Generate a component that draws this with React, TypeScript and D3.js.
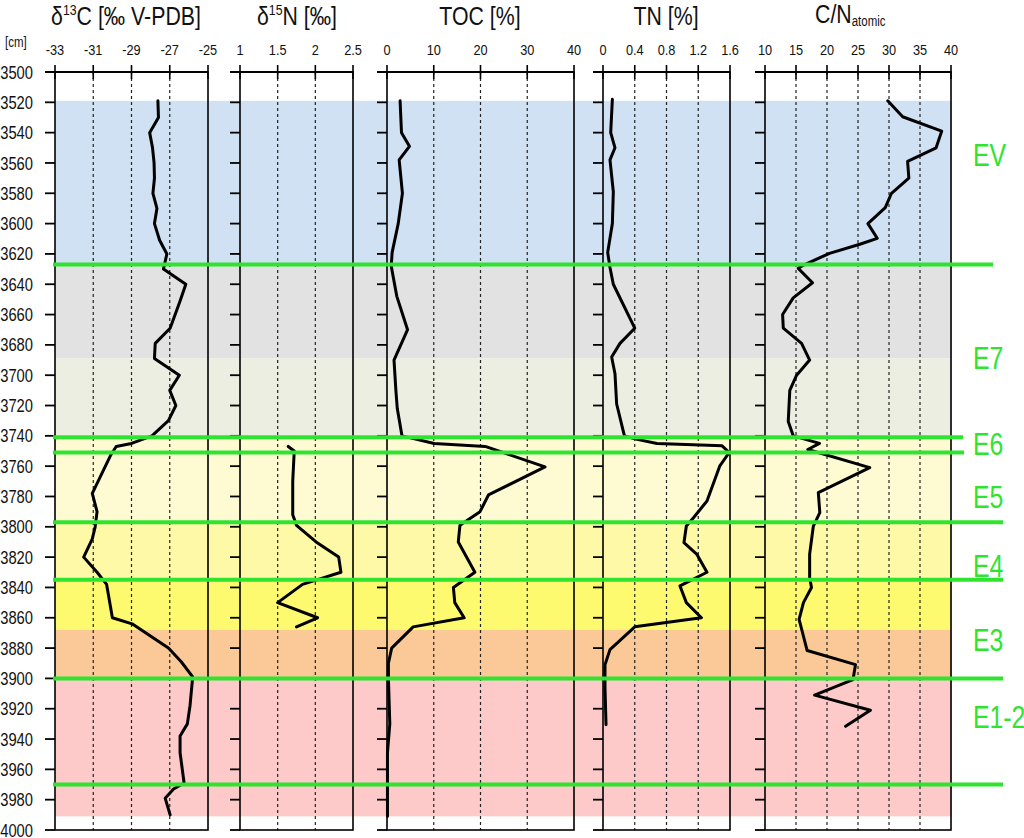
import React from "react";
import * as d3 from "d3";

// ---------- data ----------
const d13cDepth = [3519,3530,3540,3550,3560,3570,3580,3590,3600,3611,3620,3630,3640,3651,3669,3679,3689,3700,3710,3720,3730,3740,3745,3747,3753,3778,3790,3800,3808,3820,3830,3838,3860,3864,3880,3889,3899,3918,3930,3938,3949,3969,3973,3979,3990];
const d13cValue = [-27.62,-27.59,-28.05,-27.9,-27.82,-27.8,-27.88,-27.67,-27.8,-27.53,-27.15,-27.33,-26.16,-26.46,-26.98,-27.76,-27.8,-26.5,-27.0,-26.68,-27.07,-27.93,-29.0,-29.8,-30.1,-31.05,-30.8,-30.9,-31.05,-31.5,-30.8,-30.3,-30.0,-28.97,-27.07,-26.4,-25.8,-25.94,-26.08,-26.46,-26.46,-26.25,-26.8,-27.24,-26.98];

const d15nDepth = [3747,3750,3770,3792,3799,3810,3820,3830,3834.5,3838,3850,3860,3866];
const d15nValue = [1.64,1.72,1.70,1.70,1.75,2.01,2.31,2.34,2.05,1.83,1.50,2.03,1.75];

const tocDepth = [3519,3540,3549,3558,3580,3600,3619,3628,3648,3670,3690,3710,3722,3740,3745,3747,3760.5,3779,3790,3799,3810,3830,3840,3850,3860,3866,3880,3890,3900,3930,3949,3991];
const tocValue = [2.8,3.1,4.8,2.6,3.3,2.4,1.1,0.9,2.1,4.4,1.5,1.9,2.2,3.2,10.1,21,33.8,21.7,19.9,15.6,15.25,18.8,14.2,14.5,16.5,5.6,1.0,0.3,0.3,0.6,0.1,0.1];

const tnDepth = [3518,3540,3550,3558,3579,3600,3619,3629,3640,3669,3679,3688,3699,3719,3740,3742,3745,3746.6,3751,3760,3783,3794,3799.5,3810.5,3818,3830,3839,3850,3860,3866,3881,3891,3906,3930.5];
const tnValue = [0.118,0.097,0.151,0.088,0.13,0.118,0.059,0.088,0.13,0.40,0.214,0.109,0.151,0.172,0.27,0.40,0.68,1.50,1.59,1.47,1.31,1.14,1.05,1.02,1.18,1.31,0.97,1.05,1.24,0.40,0.088,0.025,0.025,0.038];

const cnDepth = [3519,3529.5,3539,3550,3559,3570,3580,3589.5,3600,3609.7,3613.6,3619.6,3627,3629.5,3639,3649,3660,3669,3679,3690,3700,3710,3730.5,3740,3745,3749,3761,3777.4,3790.7,3799.5,3818,3833.6,3840,3850,3861,3881.6,3890.9,3900.8,3911,3921,3931.6];
const cnValue = [29.8,32.2,38.5,37.6,33.0,33.2,30.4,29.4,26.6,28.1,25.3,20.4,16.4,15.36,17.66,14.55,12.84,12.95,15.9,17.2,15.1,14.0,13.75,14.55,18.8,16.9,26.9,18.6,18.84,17.8,17.2,17.2,17.5,16.2,15.5,16.8,24.6,24.2,18.0,27.0,23.0];

const depthTicks = d3.range(3500, 4001, 20);

const bandTop = [3519, 3627, 3689, 3741, 3797, 3835, 3868, 3900];
const bandBottom = [3627, 3689, 3741, 3797, 3835, 3868, 3900, 3991];
const bandColor = ["#cfe1f2", "#e2e2e2", "#ebeee1", "#fefbd3", "#fef9a6", "#fefa70", "#fbc997", "#fdc9c9"];

const boundaryDepth = [3627, 3741, 3751, 3797, 3835, 3900, 3970];
const zoneLabel = ["EV", "E7", "E6", "E5", "E4", "E3", "E1-2"];
const zoneLabelDepth = [3555, 3689, 3746, 3781, 3826, 3875, 3926];

const d13cTicks = [-33, -31, -29, -27, -25];
const d15nTicks = [1, 1.5, 2, 2.5];
const tocTicks = [0, 10, 20, 30, 40];
const tnTicks = [0, 0.4, 0.8, 1.2, 1.6];
const cnTicks = [10, 15, 20, 25, 30, 35, 40];

// ---------- layout ----------
const W = 1024, H = 838;
const yTop = 72, yBot = 830;
const y = d3.scaleLinear().domain([3500, 4000]).range([yTop, yBot]);
const boundaryRight = [993, 963, 964, 1003, 1003, 1003, 1003];
const GREEN = "#2fe42f";
const FONT = "'Liberation Sans', Arial, sans-serif";

type Panel = {
  key: string;
  domain: [number, number];
  range: [number, number];
  ticks: number[];
  depth: number[];
  value: number[];
  fmt: (v: number) => string;
};

const panels: Panel[] = [
  { key: "d13c", domain: [-33, -25], range: [55, 208], ticks: d13cTicks, depth: d13cDepth, value: d13cValue, fmt: (v) => String(v) },
  { key: "d15n", domain: [1, 2.5], range: [240, 353], ticks: d15nTicks, depth: d15nDepth, value: d15nValue, fmt: (v) => String(v) },
  { key: "toc", domain: [0, 40], range: [387, 574], ticks: tocTicks, depth: tocDepth, value: tocValue, fmt: (v) => String(v) },
  { key: "tn", domain: [0, 1.6], range: [603, 730], ticks: tnTicks, depth: tnDepth, value: tnValue, fmt: (v) => String(v) },
  { key: "cn", domain: [10, 40], range: [765, 951], ticks: cnTicks, depth: cnDepth, value: cnValue, fmt: (v) => String(v) },
];

function NText(props: {
  x: number; y: number; size: number; anchor?: string; fill?: string; sx?: number;
  baseline?: string; children: React.ReactNode;
}) {
  const { x, y: yy, size, anchor = "start", fill = "#111", sx = 0.82, baseline, children } = props;
  return (
    <text
      transform={`translate(${x},${yy}) scale(${sx},1)`}
      fontSize={size}
      textAnchor={anchor as any}
      fill={fill}
      fontFamily={FONT}
      dominantBaseline={baseline as any}
    >
      {children}
    </text>
  );
}

function PanelView({ p, labels }: { p: Panel; labels: boolean }) {
  const x = d3.scaleLinear().domain(p.domain).range(p.range);
  const line = d3
    .line<number>()
    .x((_, i) => x(p.value[i]))
    .y((d) => y(d));
  const [x0, x1] = p.range;
  return (
    <g>
      {/* grid */}
      {p.ticks.slice(1, -1).map((t) => (
        <line key={"g" + t} x1={x(t)} x2={x(t)} y1={yTop} y2={yBot} stroke="#222" strokeWidth={1.2} strokeDasharray="3,3" />
      ))}
      {/* data line */}
      <path d={line(p.depth) || ""} fill="none" stroke="#000" strokeWidth={3} strokeLinejoin="round" strokeLinecap="round" />
      {/* frame */}
      <rect x={x0} y={yTop} width={x1 - x0} height={yBot - yTop} fill="none" stroke="#000" strokeWidth={1.6} />
      {/* top axis line extends left */}
      <line x1={x0 - 10} x2={x1} y1={yTop} y2={yTop} stroke="#000" strokeWidth={1.8} />
      {/* top ticks */}
      {p.ticks.map((t) => (
        <line key={"t" + t} x1={x(t)} x2={x(t)} y1={yTop - 7} y2={yTop + 7} stroke="#000" strokeWidth={1.6} />
      ))}
      {p.ticks.map((t) => (
        <NText key={"l" + t} x={x(t)} y={55} size={15} anchor="middle" sx={0.85}>
          {p.fmt(t)}
        </NText>
      ))}
      {/* left depth ticks */}
      {depthTicks.map((d) => (
        <line key={"d" + d} x1={x0 - 10} x2={x0} y1={y(d)} y2={y(d)} stroke="#000" strokeWidth={1.8} />
      ))}
      {labels &&
        depthTicks.map((d) => (
          <NText key={"dl" + d} x={33} y={y(d)} size={18} anchor="end" baseline="central">
            {String(d)}
          </NText>
        ))}
    </g>
  );
}

export default function App() {
  return (
    <svg width={W} height={H} style={{ position: "absolute", left: 0, top: 0, background: "#fff" }}>
      <rect x={0} y={0} width={W} height={H} fill="#fff" />
      {/* background bands */}
      {bandTop.map((t, i) => (
        <rect key={"b" + i} x={55} y={y(t)} width={952 - 55} height={y(bandBottom[i]) - y(t)} fill={bandColor[i]} />
      ))}
      {panels.map((p, i) => (
        <PanelView key={p.key} p={p} labels={i === 0} />
      ))}
      {/* zone boundaries */}
      {boundaryDepth.map((d, i) => (
        <line key={"z" + i} x1={53} x2={boundaryRight[i]} y1={y(d)} y2={y(d)} stroke={GREEN} strokeWidth={4} />
      ))}
      {zoneLabel.map((l, i) => (
        <NText key={"zl" + l} x={973} y={y(zoneLabelDepth[i])} size={31} fill={GREEN} baseline="central" sx={0.8}>
          {l}
        </NText>
      ))}
      {/* titles */}
      <text transform="translate(126,25) scale(0.82,1)" fontSize={26} textAnchor="middle" fontFamily={FONT} fill="#111">
        δ<tspan fontSize={15} dy={-10}>13</tspan>
        <tspan dy={10}>C [‰ V-PDB]</tspan>
      </text>
      <text transform="translate(297,25) scale(0.82,1)" fontSize={26} textAnchor="middle" fontFamily={FONT} fill="#111">
        δ<tspan fontSize={15} dy={-10}>15</tspan>
        <tspan dy={10}>N [‰]</tspan>
      </text>
      <NText x={480} y={25} size={26} anchor="middle">TOC [%]</NText>
      <NText x={666} y={25} size={26} anchor="middle">TN [%]</NText>
      <text transform="translate(815,23) scale(0.82,1)" fontSize={26} fontFamily={FONT} fill="#111">
        C/N<tspan fontSize={14} dy={3}>atomic</tspan>
      </text>
      <NText x={5} y={47} size={14} anchor="start">[cm]</NText>
    </svg>
  );
}
